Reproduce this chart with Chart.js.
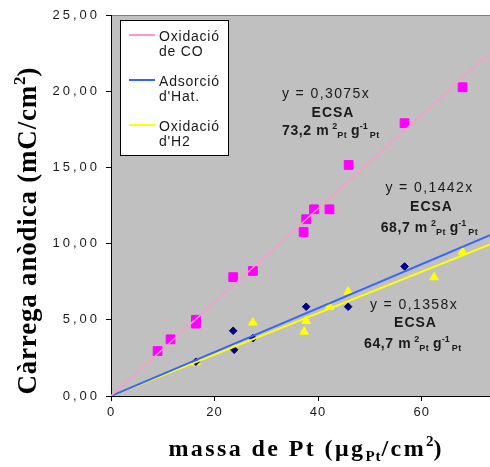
<!DOCTYPE html>
<html>
<head>
<meta charset="utf-8">
<script src="https://cdn.jsdelivr.net/npm/chart.js@4.4.1/dist/chart.umd.min.js"></script>
<style>
  html, body { margin: 0; padding: 0; background: #ffffff; }
  #wrap { width: 490px; height: 467px; position: relative; }
</style>
</head>
<body>
<div id="wrap"><canvas id="chart" width="490" height="467"></canvas></div>
<script>
// Platinum loading (µg Pt / cm²) against anodic charge (mC / cm²)
const coMass    = [9.0, 11.5, 16.4, 16.4, 23.6, 27.4, 37.2, 37.7, 39.2, 42.2, 45.9, 56.7, 67.9];
const coCharge  = [2.95, 3.72, 4.75, 5.0, 7.8, 8.2, 10.76, 11.6, 12.25, 12.25, 15.16, 17.9, 20.26];

const hatMass   = [16.4, 23.6, 23.8, 27.4, 37.7, 45.8, 56.7];
const hatCharge = [2.25, 4.28, 3.03, 3.79, 5.86, 5.86, 8.5];

const h2Mass    = [16.4, 23.8, 27.4, 37.3, 37.7, 42.2, 45.8, 62.4, 67.9];
const h2Charge  = [2.2, 3.15, 4.82, 4.22, 4.92, 5.86, 6.85, 7.79, 9.47];

// Linear fits through the origin and the resulting surface areas
const seriesNames = ['Oxidació\nde CO', "Adsorció\nd'Hat.", "Oxidació\nd'H2"];
const fitSlopes   = [0.3075, 0.1442, 0.1358];
const ecsaValues  = ['73,2', '68,7', '64,7'];

// Axis ranges and ticks
const xMax = 73.2;
const xTickStep = 20;
const yMax = 25;
const yTickStep = 5;

const pts = (xs, ys) => xs.map((x, i) => ({ x, y: ys[i] }));
const fitLine = (k) => [{ x: 0, y: 0 }, { x: xMax, y: k * xMax }];
const comma = (v, d) => v.toFixed(d).replace('.', ',');

const lineColors = ['#FF99CC', '#3366FF', '#FFFF00'];

const SANS = "'Liberation Sans', Arial, sans-serif";
const SERIF = "'Liberation Serif', 'Times New Roman', serif";

// Draws a sequence of text runs (for super/subscripts) starting at x
function runsWidth(ctx, runs) {
  let w = 0;
  for (const r of runs) {
    ctx.font = (r.bold ? 'bold ' : '') + r.size + 'px ' + (r.family || SANS);
    ctx.letterSpacing = (r.ls || 0) + 'px';
    r.w = ctx.measureText(r.text).width;
    w += (r.gap || 0) + r.w;
  }
  return w;
}
function drawRuns(ctx, runs, x, y, align) {
  const total = runsWidth(ctx, runs);
  let cx = align === 'center' ? x - total / 2 : x;
  ctx.textAlign = 'left';
  ctx.textBaseline = 'alphabetic';
  for (const r of runs) {
    cx += r.gap || 0;
    ctx.font = (r.bold ? 'bold ' : '') + r.size + 'px ' + (r.family || SANS);
    ctx.letterSpacing = (r.ls || 0) + 'px';
    ctx.fillText(r.text, cx, y + (r.dy || 0));
    cx += r.w;
  }
}

const plotBackground = {
  id: 'plotBackground',
  beforeDraw(chart) {
    const { ctx, chartArea: a } = chart;
    ctx.save();
    ctx.fillStyle = '#C0C0C0';
    ctx.fillRect(a.left, a.top, a.right - a.left, a.bottom - a.top);
    ctx.strokeStyle = '#808080';
    ctx.lineWidth = 1;
    ctx.beginPath();
    ctx.moveTo(a.left, a.top + 0.5);
    ctx.lineTo(a.right, a.top + 0.5);
    ctx.stroke();
    ctx.restore();
    // spaced tick labels
    const spacing = { x: 1, y: 3 };
    for (const id of ['x', 'y']) {
      const s = chart.scales[id];
      if (s && !s._spaced) {
        const orig = s.drawLabels.bind(s);
        s.drawLabels = function (area) {
          const c = this.ctx;
          c.save();
          c.letterSpacing = spacing[id] + 'px';
          orig(area);
          c.restore();
        };
        s._spaced = true;
      }
    }
  }
};

const textLayer = {
  id: 'textLayer',
  afterDraw(chart) {
    const { ctx } = chart;
    ctx.save();
    ctx.fillStyle = '#1a1a1a';

    // fit equations and ECSA values
    const anchors = [
      { eqX: 326, eqY: 98,  ecX: 333,   ecY: 116.5, valX: 282, valY: 135 },
      { eqX: 429.5, eqY: 191.5, ecX: 431.5, ecY: 211, valX: 380.7, valY: 232 },
      { eqX: 414, eqY: 309, ecX: 415.5, ecY: 327, valX: 364, valY: 348 }
    ];
    anchors.forEach((p, i) => {
      drawRuns(ctx, [{ text: 'y = ' + comma(fitSlopes[i], 4) + 'x', size: 14, ls: 1.4 }], p.eqX, p.eqY, 'center');
      drawRuns(ctx, [{ text: 'ECSA', size: 14, bold: true, ls: 1 }], p.ecX, p.ecY, 'center');
      drawRuns(ctx, [
        { text: ecsaValues[i] + ' m', size: 14, bold: true, ls: 0.6 },
        { text: '2', size: 9, bold: true, dy: -6, gap: 3 },
        { text: 'Pt', size: 9, bold: true, dy: 3, ls: 0.5 },
        { text: ' g', size: 14, bold: true },
        { text: '-1', size: 9, bold: true, dy: -6 },
        { text: 'Pt', size: 9, bold: true, dy: 3, gap: 2, ls: 0.5 }
      ], p.valX, p.valY, 'left');
    });

    // legend box
    ctx.fillStyle = '#ffffff';
    ctx.fillRect(120, 20, 108, 135);
    ctx.strokeStyle = '#000000';
    ctx.lineWidth = 1;
    ctx.strokeRect(120.5, 20.5, 108, 135);
    seriesNames.forEach((name, i) => {
      const ly = 35 + 45 * i;
      ctx.strokeStyle = lineColors[i];
      ctx.lineWidth = 2;
      ctx.beginPath();
      ctx.moveTo(129, ly);
      ctx.lineTo(155, ly);
      ctx.stroke();
      ctx.fillStyle = '#1a1a1a';
      name.split('\n').forEach((ln, j) => {
        drawRuns(ctx, [{ text: ln, size: 14, ls: 0.8 }], 159, ly + 5.5 + 15.5 * j, 'left');
      });
    });

    // axis titles
    ctx.fillStyle = '#000000';
    drawRuns(ctx, [
      { text: 'massa de Pt (μg', size: 24, bold: true, family: SERIF, ls: 2.4 },
      { text: 'Pt', size: 15, bold: true, family: SERIF, dy: 5, ls: 1 },
      { text: '/cm', size: 24, bold: true, family: SERIF, ls: 2.4 },
      { text: '2', size: 15, bold: true, family: SERIF, dy: -10 },
      { text: ')', size: 24, bold: true, family: SERIF }
    ], 305, 456, 'center');

    ctx.save();
    ctx.translate(36, 231);
    ctx.rotate(-Math.PI / 2);
    drawRuns(ctx, [
      { text: 'Càrrega anòdica (mC/cm', size: 27, bold: true, family: SERIF, ls: 0.8 },
      { text: '2', size: 17, bold: true, family: SERIF, dy: -11 },
      { text: ')', size: 27, bold: true, family: SERIF }
    ], 0, 0, 'center');
    ctx.restore();

    ctx.restore();
  }
};

new Chart(document.getElementById('chart'), {
  type: 'scatter',
  data: {
    datasets: [
      { label: 'CO fit', data: fitLine(fitSlopes[0]), showLine: true, borderColor: lineColors[0], borderWidth: 1.5, pointRadius: 0, order: 0 },
      { label: 'Hat fit', data: fitLine(fitSlopes[1]), showLine: true, borderColor: lineColors[1], borderWidth: 2, pointRadius: 0, order: 0 },
      { label: 'H2 fit', data: fitLine(fitSlopes[2]), showLine: true, borderColor: lineColors[2], borderWidth: 2, pointRadius: 0, order: 0 },
      { label: 'Oxidació de CO', data: pts(coMass, coCharge), pointStyle: 'rect', pointRadius: 6.2, backgroundColor: '#FF00FF', borderColor: '#FF00FF', borderWidth: 1, order: 1 },
      { label: "Adsorció d'Hat.", data: pts(hatMass, hatCharge), pointStyle: 'rectRot', pointRadius: 3.8, backgroundColor: '#000080', borderColor: '#000080', borderWidth: 1, order: 1 },
      { label: "Oxidació d'H2", data: pts(h2Mass, h2Charge), pointStyle: 'triangle', pointRadius: 5, backgroundColor: '#FFFF00', borderColor: '#FFFF00', borderWidth: 1, order: 1 }
    ]
  },
  options: {
    responsive: false,
    animation: false,
    devicePixelRatio: 1,
    layout: { autoPadding: false, padding: { top: 15, right: 0, bottom: 0, left: 0 } },
    plugins: { legend: { display: false }, tooltip: { enabled: false } },
    scales: {
      x: {
        type: 'linear', min: 0, max: xMax,
        ticks: { stepSize: xTickStep, includeBounds: false, color: '#1a1a1a', font: { family: SANS, size: 13 }, padding: 4, maxRotation: 0 },
        grid: { drawOnChartArea: false, drawTicks: true, tickLength: 5, color: '#000000' },
        border: { color: '#000000', width: 1 },
        afterFit(s) { s.height = 71; s.paddingLeft = 0; s.paddingRight = 0; }
      },
      y: {
        type: 'linear', min: 0, max: yMax,
        ticks: { stepSize: yTickStep, color: '#1a1a1a', font: { family: SANS, size: 13 }, padding: 6, callback: (v) => comma(v, 2) },
        grid: { drawOnChartArea: false, drawTicks: true, tickLength: 5, color: '#000000' },
        border: { color: '#000000', width: 1 },
        afterFit(s) { s.width = 111; }
      }
    }
  },
  plugins: [plotBackground, textLayer]
});
</script>
</body>
</html>
